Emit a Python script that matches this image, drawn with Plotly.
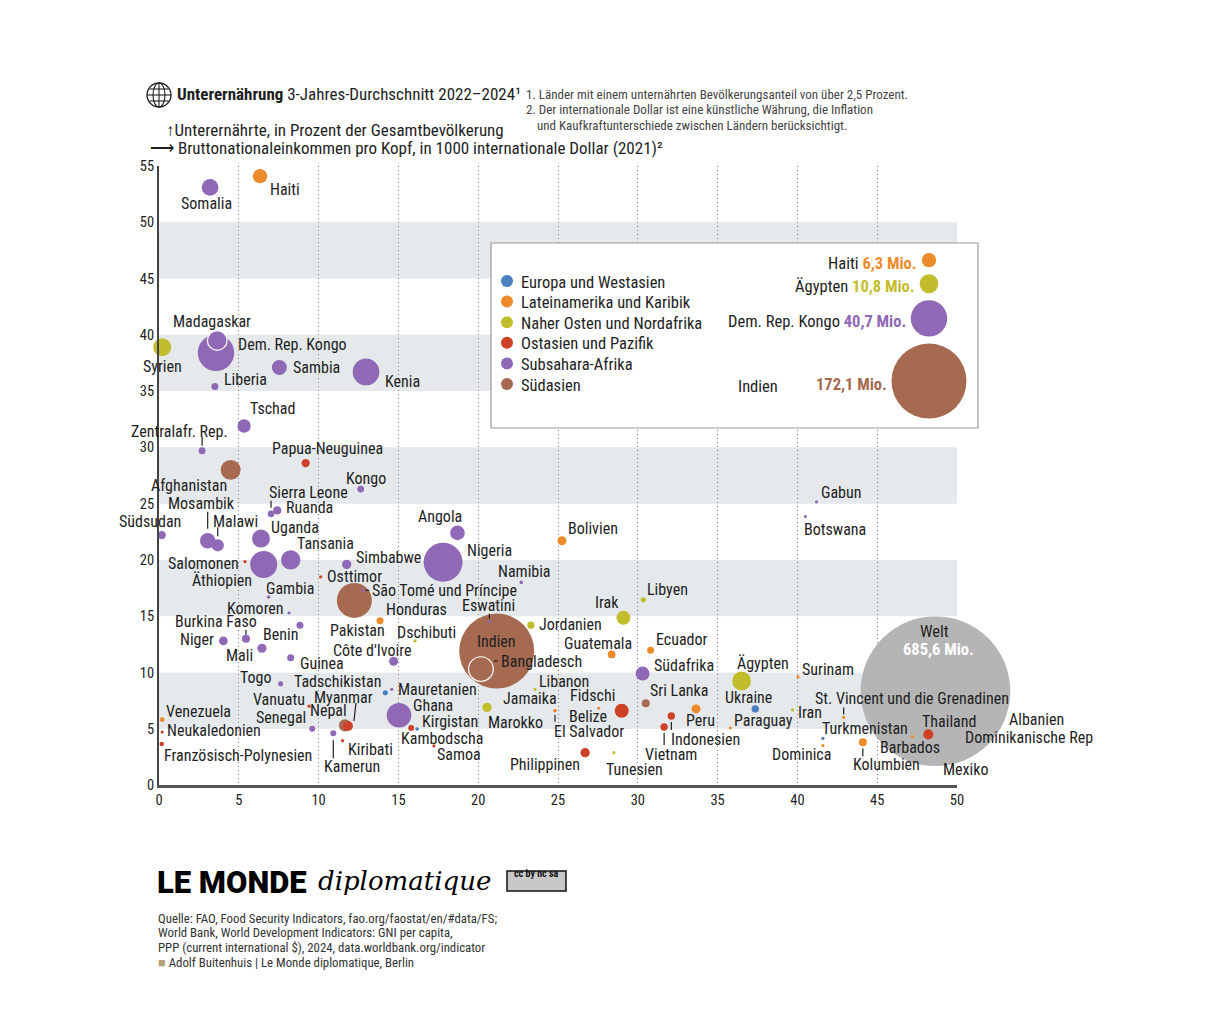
import plotly.graph_objects as go

# Regionen und Farben
region_names = ["Europa und Westasien", "Lateinamerika und Karibik", "Naher Osten und Nordafrika",
                "Ostasien und Pazifik", "Subsahara-Afrika", "Südasien"]
region_colors = ["#4a7fc1", "#ec8b2c", "#c2bd2c", "#cc4128", "#9069b6", "#a56a50"]

# (Land, BNE pro Kopf in 1000 int. $, Unterernährte in %, Unterernährte in Mio.)
eca = [("Tadschikistan", 14.18, 8.2, 0.8), ("Kirgistan", 16.17, 4.98, 0.4), ("Ukraine", 37.36, 6.76, 1.65),
       ("Turkmenistan", 41.6, 4.15, 0.15), ("Albanien", 52.9, 5.24, 0.01)]

lac = [("Haiti", 6.33, 54.1, 6.3), ("Venezuela", 0.2, 5.8, 0.7), ("Bolivien", 25.25, 21.7, 2.5),
       ("Honduras", 13.85, 14.6, 1.5), ("Guatemala", 28.36, 11.6, 1.8), ("Ecuador", 30.8, 11.97, 1.5),
       ("Jamaika", 24.81, 6.6, 0.05), ("El Salvador", 24.81, 6.6, 0.3), ("Belize", 27.55, 6.82, 0.02),
       ("Peru", 33.65, 6.76, 2.5), ("Paraguay", 35.8, 5.07, 0.3), ("Surinam", 40.04, 9.6, 0.02),
       ("St. Vincent und die Grenadinen", 42.9, 6.0, 0.01), ("Dominica", 41.6, 3.5, 0.02),
       ("Kolumbien", 44.1, 3.8, 2.0), ("Barbados", 47.2, 4.3, 0.01), ("Mexiko", 50.15, 2.6, 3.5),
       ("Dominikanische Rep", 52.27, 3.5, 0.05)]

mena = [("Syrien", 0.2, 38.9, 9.9), ("Libyen", 30.35, 16.45, 0.8), ("Irak", 29.1, 14.85, 6.0),
        ("Jordanien", 23.3, 14.2, 1.6), ("Dschibuti", 16.04, 12.8, 0.1), ("Libanon", 23.56, 8.5, 0.3),
        ("Marokko", 20.55, 6.9, 2.65), ("Tunesien", 28.5, 2.87, 0.2), ("Ägypten", 36.5, 9.24, 10.8),
        ("Iran", 39.7, 6.67, 0.2)]

eap = [("Papua-Neuguinea", 9.19, 28.6, 2.1), ("Salomonen", 5.39, 19.85, 0.1), ("Osttimor", 10.13, 18.5, 0.3),
       ("Vanuatu", 9.4, 7.0, 0.02), ("Myanmar", 11.84, 5.24, 3.0), ("Kiribati", 11.5, 3.94, 0.01),
       ("Neukaledonien", 0.2, 4.7, 0.01), ("Französisch-Polynesien", 0.17, 3.64, 0.6),
       ("Kambodscha", 15.8, 5.07, 1.1), ("Samoa", 17.23, 3.47, 0.01), ("Fidschi", 28.99, 6.6, 6.0),
       ("Philippinen", 26.7, 2.87, 2.65), ("Indonesien", 32.1, 6.13, 1.65), ("Vietnam", 31.65, 5.15, 1.65),
       ("Thailand", 48.2, 4.5, 3.1)]

ssa = [("Somalia", 3.2, 53.1, 8.5), ("Madagaskar", 3.65, 39.5, 11.9), ("Dem. Rep. Kongo", 3.57, 38.4, 40.7),
       ("Sambia", 7.54, 37.1, 6.9), ("Kenia", 12.97, 36.7, 21.8), ("Liberia", 3.5, 35.4, 1.5),
       ("Tschad", 5.33, 31.9, 5.5), ("Zentralafr. Rep.", 2.7, 29.7, 1.5), ("Kongo", 12.64, 26.3, 1.4),
       ("Sierra Leone", 7.02, 24.1, 1.4), ("Ruanda", 7.41, 24.4, 2.0), ("Südsudan", 0.17, 22.2, 2.1),
       ("Mosambik", 3.05, 21.7, 7.2), ("Malawi", 3.68, 21.3, 4.6), ("Uganda", 6.39, 21.9, 9.9),
       ("Tansania", 8.25, 20.0, 11.5), ("Äthiopien", 6.56, 19.6, 22.3), ("Simbabwe", 11.76, 19.6, 2.65),
       ("Gambia", 6.87, 16.7, 0.4), ("São Tomé und Príncipe", 12.8, 17.3, 0.02), ("Komoren", 8.15, 15.3, 0.1),
       ("Burkina Faso", 5.45, 13.0, 2.0), ("Benin", 8.83, 14.2, 1.5), ("Niger", 4.03, 12.8, 2.3),
       ("Mali", 6.45, 12.15, 2.6), ("Guinea", 8.25, 11.3, 1.5), ("Côte d'Ivoire", 14.7, 11.0, 2.5),
       ("Togo", 7.62, 9.0, 0.8), ("Mauretanien", 14.58, 8.5, 0.3), ("Senegal", 9.6, 5.0, 1.1),
       ("Kamerun", 10.92, 4.6, 1.1), ("Ghana", 15.04, 6.2, 18.5), ("Angola", 18.7, 22.4, 6.6),
       ("Nigeria", 17.8, 19.8, 46.5), ("Namibia", 22.7, 18.0, 0.4), ("Eswatini", 20.7, 14.5, 0.1),
       ("Südafrika", 30.3, 9.9, 6.0), ("Gabun", 41.2, 25.15, 0.2), ("Botswana", 40.5, 23.85, 0.2)]

sas = [("Afghanistan", 4.49, 28.0, 12.2), ("Pakistan", 12.24, 16.4, 37.5), ("Indien", 21.16, 11.9, 172.1),
       ("Bangladesch", 20.17, 10.3, 18.6), ("Nepal", 11.65, 5.3, 4.5), ("Sri Lanka", 30.5, 7.26, 2.0)]

world = [("Welt", 48.65, 8.33, 685.6)]

# Größenlegende
key_names = ["Haiti", "Ägypten", "Dem. Rep. Kongo", "Indien"]
key_regions = ["Lateinamerika und Karibik", "Naher Osten und Nordafrika", "Subsahara-Afrika", "Südasien"]
key_mio = [6.3, 10.8, 40.7, 172.1]

x_ticks = list(range(0, 51, 5))
y_ticks = list(range(0, 56, 5))
bands = [5, 15, 25, 35, 45]

source_lines = [
    "Quelle: FAO, Food Security Indicators, fao.org/faostat/en/#data/FS;",
    "World Bank, World Development Indicators: GNI per capita,",
    "PPP (current international $), 2024, data.worldbank.org/indicator",
    "<span style='color:#b39f78'>■</span> Adolf Buitenhuis | Le Monde diplomatique, Berlin",
]

FONT = "Liberation Sans Narrow, Roboto Condensed, Roboto, sans-serif"
INK = "#1e1e1e"
LS = 16
# Seite: Zeichenfläche liegt bei x 159..957, y 166..785 (Fenster-Pixel), Body-Rand 8 px
W, H = 1206, 1014
L, R, T, B = 151, 257, 158, 237
OX, OY = 159, 785
PW, PH = 798, 619
XMAX, YMAX = 50, 55
SIZEREF = 2 * 172.1 / 75 ** 2


def PX(x):
    return (x - OX) / PW


def PY(y):
    return (OY - y) / PH


groups = dict(zip(region_names, [eca, lac, mena, eap, ssa, sas]))
colors = dict(zip(region_names, region_colors))
draw_order = ["Südasien", "Europa und Westasien", "Lateinamerika und Karibik",
              "Naher Osten und Nordafrika", "Ostasien und Pazifik", "Subsahara-Afrika"]
outlined = {"Madagaskar", "Bangladesch"}

fig = go.Figure()

fig.add_trace(go.Scatter(
    x=[r[1] for r in world], y=[r[2] for r in world], text=[r[0] for r in world],
    mode="markers", cliponaxis=False, showlegend=False, hoverinfo="text",
    marker=dict(size=[r[3] for r in world], sizemode="area", sizeref=SIZEREF, opacity=1,
                color="#b5b5b5", line=dict(width=0))))

for reg in draw_order:
    rows = sorted(groups[reg], key=lambda r: -r[3])
    fig.add_trace(go.Scatter(
        x=[r[1] for r in rows], y=[r[2] for r in rows], text=[r[0] for r in rows],
        name=reg, showlegend=False, mode="markers", cliponaxis=False, hoverinfo="text",
        marker=dict(size=[r[3] for r in rows], sizemode="area", sizeref=SIZEREF, sizemin=1.6,
                    color=colors[reg], opacity=1,
                    line=dict(color="white", width=[1.2 if r[0] in outlined else 0 for r in rows]))))

# Beschriftungen: (dx, dy in px, dy nach unten positiv, Anker)
LABELS = {
    "Somalia": (-4, 16, "c"), "Haiti": (8, 13, "l"), "Madagaskar": (-5, -19, "c"),
    "Dem. Rep. Kongo": (20, -8, "l"), "Syrien": (0, 19, "c"), "Sambia": (12, 0, "l"),
    "Kenia": (17, 10, "l"), "Liberia": (7, -7, "l"), "Tschad": (4, -17, "l"),
    "Zentralafr. Rep.": (-23, -19, "c"), "Papua-Neuguinea": (22, -15, "c"), "Afghanistan": (-42, 16, "c"),
    "Kongo": (5, -11, "c"), "Sierra Leone": (37, -21, "c"), "Ruanda": (7, -3, "l"),
    "Südsudan": (-12, -14, "c"), "Mosambik": (-6, -37, "c"), "Malawi": (18, -24, "c"),
    "Uganda": (8, -11, "l"), "Tansania": (4, -16, "l"), "Salomonen": (-4, 2, "r"),
    "Äthiopien": (-10, 16, "r"), "Simbabwe": (7, -7, "l"), "Osttimor": (4, 0, "l"),
    "Gambia": (-5, -9, "l"), "São Tomé und Príncipe": (7, 0, "l"), "Komoren": (-3, -4, "r"),
    "Honduras": (4, -11, "l"), "Burkina Faso": (-30, -17, "c"), "Niger": (-7, -1, "r"),
    "Benin": (-19, 9, "c"), "Pakistan": (3, 30, "c"), "Dschibuti": (11, -8, "c"),
    "Côte d'Ivoire": (-22, -11, "c"), "Mali": (-7, 7, "r"), "Guinea": (7, 6, "l"),
    "Togo": (-7, -6, "r"), "Tadschikistan": (-2, -11, "r"), "Mauretanien": (4, 0, "l"),
    "Vanuatu": (-2, -7, "r"), "Myanmar": (-4, -29, "c"), "Nepal": (4, -15, "r"),
    "Senegal": (-4, -11, "r"), "Venezuela": (2, -8, "l"), "Neukaledonien": (3, -2, "l"),
    "Französisch-Polynesien": (0, 11, "l"), "Kamerun": (-11, 33, "l"), "Kiribati": (3, 9, "l"),
    "Ghana": (12, -10, "l"), "Kirgistan": (3, -7, "l"), "Kambodscha": (-12, 11, "l"),
    "Samoa": (1, 9, "l"), "Angola": (-17, -16, "c"), "Nigeria": (22, -12, "l"),
    "Bolivien": (4, -12, "l"), "Namibia": (3, -11, "c"), "Libyen": (2, -10, "l"),
    "Irak": (-2, -15, "r"), "Eswatini": (-1, -16, "c"), "Jordanien": (6, -1, "l"),
    "Indien": (0, -10, "c"), "Bangladesch": (18, -8, "l"), "Guatemala": (-14, -11, "c"),
    "Ecuador": (3, -11, "l"), "Südafrika": (9, -8, "l"), "Libanon": (2, -8, "l"),
    "Jamaika": (4, -12, "r"), "Fidschi": (-5, -15, "r"), "Belize": (-11, 8, "c"),
    "El Salvador": (-3, 21, "l"), "Marokko": (-1, 15, "l"), "Sri Lanka": (2, -13, "l"),
    "Peru": (4, 12, "c"), "Indonesien": (-2, 23, "l"), "Vietnam": (-21, 27, "l"),
    "Philippinen": (-3, 12, "r"), "Tunesien": (-10, 17, "l"), "Paraguay": (2, -7, "l"),
    "Gabun": (2, -9, "l"), "Botswana": (-3, 13, "l"), "Ägypten": (21, -18, "c"),
    "Ukraine": (-7, -11, "c"), "Surinam": (2, -7, "l"), "Iran": (3, 3, "l"),
    "St. Vincent und die Grenadinen": (-31, -19, "l"), "Turkmenistan": (-3, -10, "l"),
    "Dominica": (10, 9, "r"), "Kolumbien": (-12, 22, "l"), "Barbados": (-34, 11, "l"),
    "Thailand": (-8, -13, "l"), "Mexiko": (-18, 14, "l"), "Albanien": (4, -7, "l"),
    "Dominikanische Rep": (-30, -8, "l"),
}

# Hinweislinien: (x0, y0, x1, y1) in px relativ zum Punkt, y nach unten positiv
LEADERS = {
    "Zentralafr. Rep.": (0, -14, 0, -5), "Sierra Leone": (0, -13, 0, -6), "Mosambik": (0, -29, 0, -12),
    "Malawi": (0, -18, 0, -9), "Burkina Faso": (0, -9, 0, -4), "Eswatini": (0, -8, 0, -3),
    "Kamerun": (0, 7, 0, 25), "El Salvador": (0, 4, 0, 11), "Indonesien": (0, 6, 0, 14),
    "Vietnam": (0, 6, 0, 18), "St. Vincent und die Grenadinen": (0, -10, 0, -3),
    "Kolumbien": (0, 6, 0, 14), "Myanmar": (8, -23, 6, -5), "São Tomé und Príncipe": (2, 0, 6, 0),
    "Bangladesch": (13, -8, 17, -8),
}

pos = {r[0]: (r[1], r[2]) for rows in list(groups.values()) + [world] for r in rows}
anchors = {"l": "left", "c": "center", "r": "right"}

for name, (dx, dy, a) in LABELS.items():
    x, y = pos[name]
    ref = dict(xref="x", x=x) if x <= XMAX else dict(xref="paper", x=x / XMAX)
    fig.add_annotation(**ref, y=y, yref="y", text=name, showarrow=False,
                       xshift=dx, yshift=-dy, xanchor=anchors[a], yanchor="middle",
                       font=dict(family=FONT, size=LS, color=INK))

for name, (x0, y0, x1, y1) in LEADERS.items():
    x, y = pos[name]
    fig.add_shape(type="line", xref="x", yref="y", xsizemode="pixel", ysizemode="pixel",
                  xanchor=x, yanchor=y, x0=x0, x1=x1, y0=-y0, y1=-y1,
                  line=dict(color=INK, width=1.2))

wx, wy = pos["Welt"]
fig.add_annotation(x=wx, y=wy, text="Welt", showarrow=False, yshift=60, xshift=-1,
                   font=dict(family=FONT, size=LS + 0.5, color=INK))
fig.add_annotation(x=wx, y=wy, text="<b>685,6 Mio.</b>", showarrow=False, yshift=42, xshift=3,
                   font=dict(family=FONT, size=LS + 0.5, color="white"))

# Bänder
for lo in bands:
    fig.add_shape(type="rect", xref="x", yref="y", x0=0, x1=XMAX, y0=lo, y1=lo + 5,
                  fillcolor="#e5e9eb", line=dict(width=0), layer="below")

# Legendenkasten: Fläche zwischen Gitter und Punkten, Rahmen obenauf
fig.add_shape(type="rect", xref="x", yref="y",
              x0=PX(491) * XMAX, x1=XMAX, y0=PY(428) * YMAX, y1=PY(243) * YMAX,
              fillcolor="white", line=dict(width=0), layer="between")
fig.add_shape(type="rect", xref="paper", yref="paper", x0=PX(491), x1=PX(978), y0=PY(428), y1=PY(243),
              fillcolor="rgba(0,0,0,0)", line=dict(color="#9a9a9a", width=1.2), layer="above")

# Farblegende (Pixelachse x2/y2)
LEG_X, LEG_Y, LEG_STEP = 507 - OX, OY - 281, 20.6
leg_y = [LEG_Y - i * LEG_STEP for i in range(len(region_names))]
fig.add_trace(go.Scatter(
    x=[LEG_X] * len(region_names), y=leg_y, xaxis="x2", yaxis="y2", mode="markers",
    showlegend=False, hoverinfo="skip", cliponaxis=False,
    marker=dict(size=12, color=region_colors, opacity=1, line=dict(width=0))))
for reg, ly in zip(region_names, leg_y):
    fig.add_annotation(x=LEG_X, y=ly, xref="x2", yref="y2", text=reg, showarrow=False,
                       xanchor="left", xshift=12, yshift=-1,
                       font=dict(family=FONT, size=16.5, color=INK))

# Größenlegende (Pixelachse x2/y2)
KX = 929 - OX
diam = [(2 * v / SIZEREF) ** 0.5 for v in key_mio]
top = OY - 253
key_y = []
for d in diam:
    key_y.append(top - d / 2)
    top = top - d - 7

fig.add_trace(go.Scatter(
    x=[KX] * len(key_mio), y=key_y, xaxis="x2", yaxis="y2", mode="markers", showlegend=False,
    hoverinfo="skip", cliponaxis=False,
    marker=dict(size=key_mio, sizemode="area", sizeref=SIZEREF, opacity=1,
                color=[colors[r] for r in key_regions], line=dict(width=0))))

for name, reg, v, d, ky in zip(key_names, key_regions, key_mio, diam, key_y):
    val = f"{v:.1f}".replace(".", ",") + " Mio."
    col = colors[reg]
    if name == "Indien":
        txt = f"<b><span style='color:{col}'>{val}</span></b>"
        fig.add_annotation(x=KX, y=ky, xref="x2", yref="y2", text="Indien", showarrow=False,
                           xshift=-171, yshift=-5, font=dict(family=FONT, size=16.5, color=INK))
    else:
        txt = f"{name} <b><span style='color:{col}'>{val}</span></b>"
    fig.add_annotation(x=KX, y=ky, xref="x2", yref="y2", text=txt, showarrow=False,
                       xanchor="right", xshift=-(d / 2 + 3), yshift=-3,
                       font=dict(family=FONT, size=16.5, color=INK))

# Kopf
fig.add_shape(type="circle", xref="paper", yref="paper", x0=PX(147), x1=PX(171), y0=PY(107), y1=PY(83),
              line=dict(color=INK, width=1.3))
fig.add_shape(type="circle", xref="paper", yref="paper", x0=PX(153), x1=PX(165), y0=PY(107), y1=PY(83),
              line=dict(color=INK, width=1.1))
for yy, xa, xb in [(95, 147, 171), (89, 149.5, 168.5), (101, 149.5, 168.5)]:
    fig.add_shape(type="line", xref="paper", yref="paper", x0=PX(xa), x1=PX(xb), y0=PY(yy), y1=PY(yy),
                  line=dict(color=INK, width=1.1))
fig.add_shape(type="line", xref="paper", yref="paper", x0=PX(159), x1=PX(159), y0=PY(107), y1=PY(83),
              line=dict(color=INK, width=1.1))

texts = [
    (175, 94, "<b>Unterernährung</b> 3-Jahres-Durchschnitt 2022–2024¹", 17, INK),
    (524, 95, "1. Länder mit einem unternährten Bevölkerungsanteil von über 2,5 Prozent.", 13, "#444"),
    (524, 110, "2. Der internationale Dollar ist eine künstliche Währung, die Inflation", 13, "#444"),
    (535, 125, "und Kaufkraftunterschiede zwischen Ländern berücksichtigt.", 13, "#444"),
    (164, 130, "↑Unterernährte, in Prozent der Gesamtbevölkerung", 17, INK),
    (148, 148, "⟶ Bruttonationaleinkommen pro Kopf, in 1000 internationale Dollar (2021)²", 17, INK),
]
for i, line in enumerate(source_lines):
    texts.append((156, 918 + i * 14.7, line, 12.8, "#333"))
for x, y, t, s, c in texts:
    fig.add_annotation(x=PX(x), y=PY(y), xref="paper", yref="paper", text=t, showarrow=False,
                       xanchor="left", yanchor="middle", font=dict(family=FONT, size=s, color=c))

# Fuß
fig.add_annotation(x=PX(155), y=PY(882), xref="paper", yref="paper", text="LE MONDE", showarrow=False,
                   xanchor="left", yanchor="middle",
                   font=dict(family="Roboto, sans-serif", size=31, color="black", weight=900))
fig.add_annotation(x=PX(316), y=PY(881), xref="paper", yref="paper", text="diplomatique", showarrow=False,
                   xanchor="left", yanchor="middle",
                   font=dict(family="DejaVu Serif, serif", size=26, color="black", style="italic"))
fig.add_shape(type="rect", xref="paper", yref="paper", x0=PX(507), x1=PX(566), y0=PY(891), y1=PY(871),
              fillcolor="#c8c8c8", line=dict(color="#111", width=1.5))
fig.add_annotation(x=PX(536.5), y=PY(881), xref="paper", yref="paper", text="<b>cc by nc sa</b>",
                   showarrow=False, font=dict(family=FONT, size=10, color="#111"))

fig.update_layout(
    width=W, height=H, margin=dict(l=L, r=R, t=T, b=B),
    paper_bgcolor="white", plot_bgcolor="white",
    font=dict(family=FONT, size=14, color=INK),
    xaxis=dict(range=[0, XMAX], tickvals=x_ticks, showgrid=True, gridcolor="#7a7a7a", griddash="1px,3px",
               gridwidth=1, zeroline=False, showline=True, linecolor="#555", linewidth=3,
               ticks="", ticklabelstandoff=0, tickfont=dict(size=14.5)),
    yaxis=dict(range=[0, YMAX], tickvals=y_ticks, showgrid=False, zeroline=False, showline=True,
               linecolor="#444", linewidth=2, ticks="", ticklabelstandoff=0, tickfont=dict(size=14.5)),
    xaxis2=dict(range=[0, PW], overlaying="x", visible=False),
    yaxis2=dict(range=[0, PH], overlaying="y", visible=False),
    showlegend=False,
)

fig.write_html("out.html")
